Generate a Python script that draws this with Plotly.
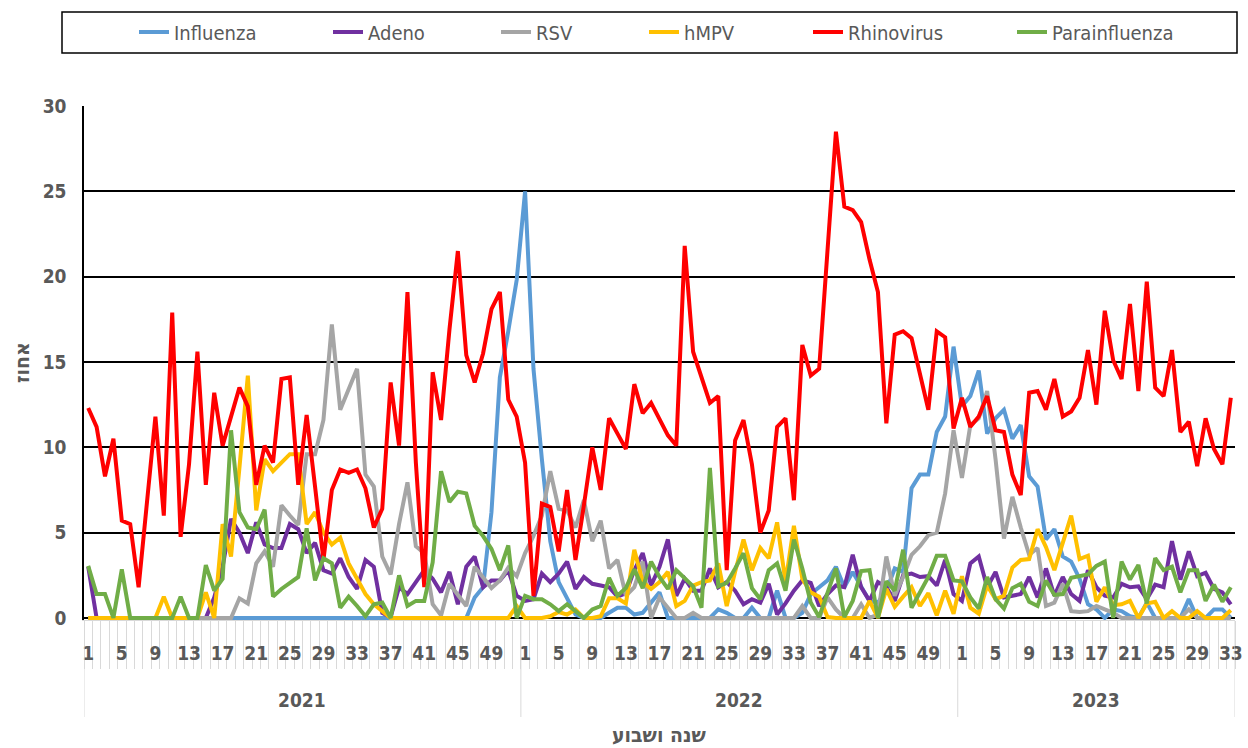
import plotly.graph_objects as go

# ---------------- data ----------------
years = [2021, 2022, 2023]
weeks_in_year = [52, 52, 33]
label_every = 4  # week labels 1,5,9,...

influenza = [
    0, 0, 0, 0, 0, 0, 0, 0, 0, 0, 0, 0, 0, 0, 0, 0, 0, 0, 0, 0, 0, 0, 0, 0, 0, 0,
    0, 0, 0, 0, 0, 0, 0, 0, 0, 0, 0, 0, 0, 0, 0, 0, 0, 0, 0, 0, 1.2, 1.8, 6.2, 14.1, 16.8, 19.8,
    25.0, 14.6, 9.3, 4.5, 2.1, 1.2, 0.2, 0, 0, 0, 0.3, 0.6, 0.6, 0.2, 0.3, 0.9, 1.5, 0, 0, 0, 0, 0, 0, 0.5, 0.3, 0,
    0, 0.6, 0, 0, 1.6, 0, 0, 0.3, 1.4, 1.8, 2.2, 3.0, 1.8, 2.7, 1.8, 1.0, 0.9, 1.6, 2.9, 2.7, 7.6, 8.4, 8.4, 10.9, 11.8, 15.9,
    12.4, 13.0, 14.5, 10.8, 11.7, 12.2, 10.5, 11.3, 8.3, 7.7, 4.6, 5.2, 3.6, 3.3, 2.3, 0.8, 0.5,
    0, 0.5, 0.4, 0.1, 0, 0.9, 0, 0, 0, 0, 1.1, 0, 0, 0.5, 0.5, 0,
]
adeno = [
    3.0, 0, 0, 0, 0, 0, 0, 0, 0, 0, 0, 0, 0, 0, 0, 1.2, 3.0, 5.8, 5.0, 3.8, 5.6, 4.3, 4.1, 4.1, 5.5, 5.2,
    3.8, 4.4, 2.8, 2.6, 3.5, 2.4, 1.7, 3.4, 3.0, 0.3, 0.05, 1.8, 1.4, 2.1, 2.8, 2.3, 1.5, 2.7, 0.8, 3.0, 3.6, 1.8, 2.2, 2.2, 2.8, 1.3,
    1.0, 1.1, 2.6, 2.1, 2.6, 3.3, 1.7, 2.4, 2.0, 1.9, 1.8, 1.25, 1.45, 2.8, 3.8, 1.9, 3.0, 4.6, 1.3, 2.3, 1.6, 1.6, 2.9, 1.8, 2.1, 1.6,
    0.8, 1.1, 0.9, 2.0, 0.2, 0.85, 1.6, 2.2, 2.05, 0.7, 1.4, 1.9, 1.8, 3.7, 1.8, 1.0, 2.1, 1.8, 1.0, 2.5, 2.6, 2.4, 2.45, 1.9, 3.4, 1.4,
    1.0, 3.2, 3.6, 1.8, 2.7, 1.2, 1.3, 1.4, 2.4, 1.2, 2.9, 1.3, 2.4, 1.4, 1.0, 2.8, 1.8,
    1.3, 1.2, 2.0, 1.8, 1.85, 1.1, 1.95, 1.8, 4.5, 2.25, 3.9, 2.45, 2.65, 1.7, 1.5, 0.8,
]
rsv = [
    0, 0, 0, 0, 0, 0, 0, 0, 0, 0, 0, 0, 0, 0, 0, 0, 0, 0, 1.15, 0.85, 3.2, 3.9, 3.0, 6.6, 6.0, 5.45,
    9.6, 9.6, 11.6, 17.2, 12.2, 13.4, 14.6, 8.4, 7.7, 3.6, 2.55, 5.5, 7.95, 4.2, 3.8, 0.8, 0.15, 2.0, 1.35, 0.7, 3.0, 2.35, 1.75, 2.2, 2.95, 2.45,
    3.8, 4.8, 6.0, 8.6, 6.4, 6.3, 5.3, 6.9, 4.5, 5.7, 2.9, 3.4, 1.3, 1.8, 3.3, 0, 1.2, 0.6, 0, 0, 0.3, 0, 0, 0,
    0, 0, 0, 0, 0, 0, 0, 0, 0, 0.7, 0, 0, 1.2, 0.5, 0, 0, 0.8, 0, 0.2, 3.6, 1.3, 2.4, 3.7, 4.2, 4.85, 5.0, 7.3, 11.0,
    8.2, 11.3, 11.7, 13.3, 9.3, 4.65, 7.1, 5.3, 3.7, 4.1, 0.7, 0.9, 2.0, 0.4, 0.35, 0.4, 0.7,
    0.5, 0.3, 0, 0, 0, 0, 0, 0, 0, 0, 0.5, 0, 0, 0, 0, 0,
]
hmpv = [
    0, 0, 0, 0, 0, 0, 0, 0, 0, 1.25, 0, 0, 0, 0, 1.5, 0, 5.5, 3.6, 8.8, 14.2, 6.3, 9.3, 8.6, 9.1, 9.6, 9.6,
    5.5, 6.2, 5.0, 4.3, 4.7, 3.2, 2.3, 1.4, 0.8, 0.4, 0, 0, 0, 0, 0, 0, 0, 0, 0, 0, 0, 0, 0, 0, 0, 0.7,
    0, 0, 0, 0.1, 0.35, 0.2, 0.5, 0, 0, 0.1, 1.15, 1.15, 0.85, 4.0, 2.1, 1.7, 2.1, 2.7, 0.7, 1.0, 1.9, 2.1, 2.2, 3.2, 0.7, 2.7,
    4.6, 2.8, 4.1, 3.5, 5.6, 2.1, 5.4, 2.3, 1.5, 1.25, 0.05, 0, 0, 0, 0, 1.0, 0, 1.7, 0.65, 1.25, 1.8, 0.7, 1.45, 0.15, 1.6, 0.25,
    2.45, 0.6, 0.25, 1.9, 1.1, 1.3, 2.95, 3.4, 3.45, 5.2, 4.15, 2.8, 4.5, 6.0, 3.45, 3.65, 0.95,
    1.8, 0.75, 0.8, 1.0, 0, 0.85, 0.95, 0, 0.4, 0, 0, 0.4, 0, 0, 0, 0.45,
]
rhinovirus = [
    12.3, 11.2, 8.3, 10.5, 5.7, 5.5, 1.8, 6.8, 11.8, 6.0, 17.9, 4.75, 9.0, 15.6, 7.8, 13.2, 10.1, 11.8, 13.5, 12.4, 7.8, 10.1, 9.1, 14.0, 14.1, 7.8,
    11.9, 7.7, 3.4, 7.5, 8.7, 8.5, 8.7, 7.6, 5.3, 6.4, 13.8, 10.1, 19.1, 9.1, 1.8, 14.4, 11.6, 16.9, 21.5, 15.4, 13.8, 15.5, 18.1, 19.1, 12.8, 11.8,
    9.1, 1.3, 6.7, 6.5, 3.9, 7.5, 3.4, 6.6, 10.0, 7.5, 11.7, 10.8, 9.9, 13.7, 12.0, 12.6, 11.7, 10.7, 10.1, 21.8, 15.6, 14.1, 12.6, 13.0, 2.8, 10.4,
    11.6, 9.0, 5.0, 6.3, 11.2, 11.7, 6.9, 16.0, 14.2, 14.6, 21.5, 28.5, 24.1, 23.9, 23.2, 21.0, 19.1, 11.4, 16.6, 16.8, 16.4, 14.3, 12.2, 16.8, 16.45, 11.1,
    12.9, 11.2, 11.8, 13.0, 11.0, 10.9, 8.4, 7.2, 13.2, 13.3, 12.2, 14.0, 11.8, 12.1, 12.9, 15.7, 12.5,
    18.0, 15.1, 14.0, 18.4, 13.3, 19.7, 13.5, 13.0, 15.7, 10.9, 11.5, 8.9, 11.7, 9.9, 9.0, 12.9,
]
parainfluenza = [
    3.05, 1.4, 1.4, 0, 2.85, 0, 0, 0, 0, 0, 0, 1.25, 0, 0, 3.1, 1.6, 2.3, 11.0, 6.2, 5.3, 5.2, 6.35, 1.25, 1.7, 2.05, 2.4,
    5.25, 2.2, 3.5, 3.2, 0.6, 1.25, 0.7, 0.1, 0.8, 0.9, 0, 2.5, 0.7, 1.0, 1.0, 3.25, 8.6, 6.8, 7.4, 7.3, 5.4, 4.8, 4.05, 2.8, 4.25, 0,
    1.3, 1.1, 1.1, 0.8, 0.4, 0.8, 0.4, 0, 0.5, 0.7, 2.35, 1.3, 1.75, 2.85, 1.75, 3.3, 2.4, 1.7, 2.8, 2.3, 1.85, 0.6, 8.8, 1.85, 2.05, 2.9,
    3.8, 1.75, 1.1, 2.8, 3.2, 1.6, 4.6, 2.9, 0.9, 0.05, 1.5, 2.9, 0.05, 1.0, 2.75, 2.8, 0, 2.15, 1.6, 4.0, 0.6, 1.45, 2.4, 3.65, 3.65, 2.2,
    2.15, 1.2, 0.55, 2.4, 1.1, 0.55, 1.75, 2.0, 0.95, 0.7, 2.2, 1.35, 1.4, 2.35, 2.45, 2.55, 3.05,
    3.3, 0, 3.3, 2.25, 3.1, 0.85, 3.5, 2.8, 3.0, 1.5, 2.8, 2.8, 1.0, 1.95, 0.95, 1.8,
]

series_names = ["Influenza", "Adeno", "RSV", "hMPV", "Rhinovirus", "Parainfluenza"]
series_values = [influenza, adeno, rsv, hmpv, rhinovirus, parainfluenza]
series_colors = ["#5B9BD5", "#7030A0", "#A5A5A5", "#FFC000", "#FF0000", "#70AD47"]

y_title = "אחוז"
x_title = "שנה ושבוע"

# ---------------- category axis ----------------
cat_year, cat_week = [], []
for yr, n in zip(years, weeks_in_year):
    for w in range(1, n + 1):
        cat_year.append(yr)
        cat_week.append(w)
n_cat = len(cat_week)
pos = list(range(n_cat))
for v in series_values:
    assert len(v) == n_cat

tick_pos = [p for p, w in zip(pos, cat_week) if (w - 1) % label_every == 0]
tick_txt = [str(cat_week[p]) for p in tick_pos]

FONT = "DejaVu Sans Condensed, Liberation Sans Narrow, DejaVu Sans, sans-serif"
GREY = "#595959"

# plot area in pixels
W, H = 1248, 748
L, R, T, B = 84, 13, 106, 128
pw, ph = W - L - R, H - T - B


def px_x(x):
    return (x - L) / pw


def px_y(y):
    return (H - B - y) / ph


fig = go.Figure()
legend_text_x = [174, 368, 536, 684, 848, 1052]
for k, (name, vals, col) in enumerate(zip(series_names, series_values, series_colors)):
    lg = "legend" if k == 0 else f"legend{k + 1}"
    fig.add_trace(go.Scatter(
        x=pos, y=vals, mode="lines", name=name,
        line=dict(color=col, width=4),
        legend=lg, hoverinfo="skip",
    ))

layout_legends = {}
for k, tx in enumerate(legend_text_x):
    lg = "legend" if k == 0 else f"legend{k + 1}"
    layout_legends[lg] = dict(
        x=px_x(tx - 40), xanchor="left", y=px_y(32), yanchor="middle",
        orientation="h", bgcolor="rgba(0,0,0,0)", borderwidth=0,
        font=dict(family=FONT, size=20, color=GREY),
    )

# year dividers and labels
shapes = []
annotations = []
start = 0
bounds = [-0.5]
for yr, n in zip(years, weeks_in_year):
    end = start + n
    bounds.append(end - 0.5)
    annotations.append(dict(
        x=(start + end - 1) / 2, y=px_y(700), xref="x", yref="paper",
        text=str(yr), showarrow=False, yanchor="middle",
        font=dict(family=FONT, size=19, color=GREY, weight="bold"),
    ))
    start = end
for b in bounds:
    shapes.append(dict(type="line", xref="x", yref="paper", x0=b, x1=b,
                       y0=0, y1=px_y(717), line=dict(color="#D9D9D9", width=1)))

# legend box
shapes.append(dict(type="rect", xref="paper", yref="paper",
                   x0=px_x(62), x1=px_x(1237), y0=px_y(53), y1=px_y(12),
                   line=dict(color="black", width=1.5), fillcolor="rgba(0,0,0,0)"))

annotations.append(dict(
    x=px_x(22), y=0.5, xref="paper", yref="paper", text=y_title, textangle=-90,
    showarrow=False, xanchor="center", yanchor="middle",
    font=dict(family=FONT, size=21, color=GREY, weight="bold"),
))
annotations.append(dict(
    x=0.5, y=px_y(735), xref="paper", yref="paper", text=x_title,
    showarrow=False, xanchor="center", yanchor="middle",
    font=dict(family=FONT, size=21, color=GREY, weight="bold"),
))

fig.update_layout(
    width=W, height=H, autosize=False,
    margin=dict(l=L, r=R, t=T, b=B, pad=0, autoexpand=False),
    paper_bgcolor="white", plot_bgcolor="white",
    showlegend=True,
    shapes=shapes, annotations=annotations,
    **layout_legends,
)
fig.update_xaxes(
    range=[-0.5, n_cat - 0.5], showgrid=False, zeroline=False, automargin=False,
    showline=True, linecolor="#D9D9D9", linewidth=1,
    tickmode="array", tickvals=tick_pos, ticktext=tick_txt, ticks="",
    tickfont=dict(family=FONT, size=19, color=GREY, weight="bold"),
    ticklabelstandoff=16,
    minor=dict(tickmode="linear", tick0=-0.5, dtick=1, ticks="outside",
               ticklen=48, tickcolor="#D9D9D9", tickwidth=1, showgrid=False),
)
fig.update_yaxes(
    range=[-0.12, 30], tickmode="array", tickvals=[0, 5, 10, 15, 20, 25, 30],
    showgrid=True, gridcolor="black", gridwidth=1.5, zeroline=False, automargin=False,
    showline=True, linecolor="black", linewidth=1.5, ticks="",
    tickfont=dict(family=FONT, size=19, color=GREY, weight="bold"),
    ticklabelstandoff=12,
)

fig.write_html(
    "out.html",
    config={"displayModeBar": False},
    post_script="document.body.style.margin='0px';document.body.style.overflow='hidden';",
)
